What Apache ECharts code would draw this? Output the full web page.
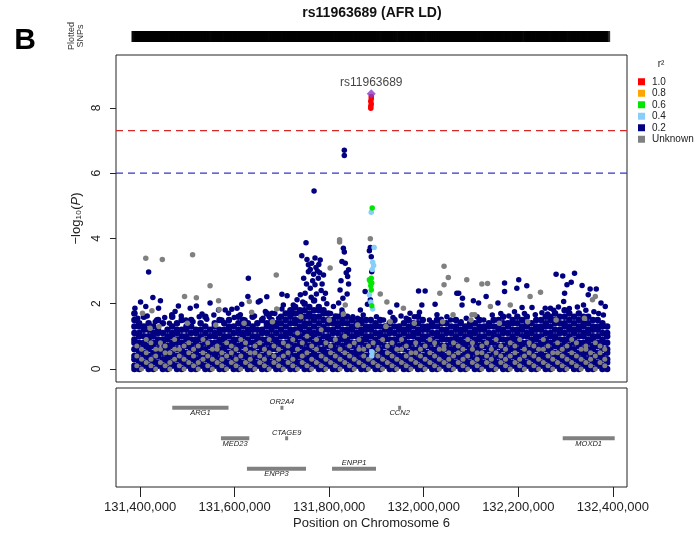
<!DOCTYPE html>
<html><head><meta charset="utf-8">
<script src="https://cdn.jsdelivr.net/npm/echarts@6/dist/echarts.min.js"></script>
<style>html,body{margin:0;padding:0;background:#fff}#c{width:700px;height:536px}</style>
</head><body><div id="c"></div>
<script>
// ---------- data (positions in kb on chromosome 6, values = -log10 P) ----------
const chartTitle = 'rs11963689 (AFR LD)';
const indexSnpName = 'rs11963689';
const xTicks = [131400,131600,131800,132000,132200,132400];
const yTicks = [0,2,4,6,8];
const sigLine = 7.3, suggLine = 6;
const legendNames = ['1.0','0.8','0.6','0.4','0.2','Unknown'];

// dense low-significance cloud, r2 < 0.2 (navy): [position, [values]]
const navyBase = [
[131388,[0,.1,.3,.4,.6,.8,.9,1.1,1.3,1.5,1.7]],[131398,[0,.2,.3,.5,.6,.8,1,1.1,1.3,1.4]],
[131408,[.1,.2,.4,.5,.7,.8,1,1.2,1.3,1.6]],[131418,[0,.1,.3,.4,.6,.7,.9,1,1.2,1.4]],
[131428,[0,.2,.3,.5,.7,.8,1,1.1,1.3]],[131438,[.1,.2,.4,.5,.6,.8,.9,1.1,1.2,1.5]],
[131448,[0,.1,.3,.5,.6,.8,.9,1.1,1.4]],[131458,[0,.2,.3,.4,.6,.7,.9,1,1.2]],
[131468,[.1,.2,.4,.5,.7,.8,1,1.1,1.3,1.6]],[131478,[0,.1,.3,.4,.6,.8,.9,1.1,1.2,1.4]],
[131488,[0,.2,.3,.5,.6,.8,1,1.2,1.5]],[131498,[.1,.2,.4,.5,.7,.9,1,1.2,1.3]],
[131508,[0,.1,.3,.4,.6,.7,.9,1.1,1.3,1.5]],[131518,[0,.2,.3,.5,.6,.8,.9,1.1,1.2]],
[131528,[.1,.2,.4,.6,.7,.9,1,1.2,1.4]],[131538,[0,.1,.3,.4,.6,.8,.9,1.1,1.3,1.6]],
[131548,[0,.2,.3,.5,.7,.8,1,1.2]],[131558,[.1,.2,.4,.5,.6,.8,1,1.1,1.3,1.4]],
[131568,[0,.1,.3,.5,.6,.8,.9,1.1,1.2,1.5]],[131578,[0,.2,.3,.4,.6,.7,.9,1,1.2,1.4]],
[131588,[.1,.2,.4,.5,.7,.8,1,1.2,1.3,1.5]],[131598,[0,.1,.3,.5,.6,.8,.9,1.1,1.3]],
[131608,[0,.2,.3,.4,.6,.7,.9,1.1,1.2,1.4,1.6]],[131618,[.1,.2,.4,.5,.7,.8,1,1.1,1.3,1.5]],
[131628,[0,.1,.3,.4,.6,.8,.9,1.1,1.2,1.4]],[131638,[0,.2,.3,.5,.6,.8,1,1.2,1.3,1.6]],
[131648,[.1,.2,.4,.5,.7,.9,1,1.2,1.4]],[131658,[0,.1,.3,.4,.6,.7,.9,1.1,1.2,1.5]],
[131668,[0,.2,.3,.5,.6,.8,.9,1.1,1.3,1.4,1.7]],[131678,[.1,.2,.4,.6,.7,.9,1,1.2,1.3,1.5]],
[131688,[0,.1,.3,.4,.6,.8,.9,1.1,1.3,1.4]],[131698,[0,.2,.3,.5,.7,.8,1,1.2,1.4,1.6]],
[131708,[.1,.2,.4,.5,.6,.8,1,1.1,1.3,1.5,1.7]],[131718,[0,.1,.3,.5,.6,.8,.9,1.1,1.2,1.4,1.6,1.8]],
[131728,[0,.2,.3,.4,.6,.7,.9,1,1.2,1.4,1.5,1.7,1.9]],[131738,[.1,.2,.4,.5,.7,.8,1,1.2,1.3,1.5,1.7,1.8]],
[131748,[0,.1,.3,.5,.6,.8,.9,1.1,1.3,1.4,1.6,1.8,2]],[131758,[0,.2,.3,.4,.6,.7,.9,1.1,1.2,1.4,1.6,1.7,1.9]],
[131768,[.1,.2,.4,.5,.7,.8,1,1.1,1.3,1.5,1.6,1.8,2.1]],[131778,[0,.1,.3,.4,.6,.8,.9,1.1,1.2,1.4,1.6,1.8,1.9]],
[131788,[0,.2,.3,.5,.6,.8,1,1.2,1.3,1.5,1.7,1.8]],[131798,[.1,.2,.4,.5,.7,.9,1,1.2,1.4,1.5,1.7]],
[131808,[0,.1,.3,.4,.6,.7,.9,1.1,1.2,1.4,1.5]],[131818,[0,.2,.3,.5,.6,.8,.9,1.1,1.3,1.4,1.6]],
[131828,[.1,.2,.4,.6,.7,.9,1,1.2,1.4,1.5,1.7]],[131838,[0,.1,.3,.4,.6,.8,.9,1.1,1.2,1.4,1.6]],
[131848,[0,.2,.3,.5,.7,.8,1,1.2,1.3,1.5]],[131858,[.1,.2,.4,.5,.6,.8,1,1.1,1.3,1.4]],
[131868,[0,.1,.3,.5,.6,.8,.9,1.1,1.2,1.4,1.5]],[131878,[0,.2,.3,.4,.6,.7,.9,1,1.2,1.3,1.5]],
[131888,[.1,.2,.4,.5,.7,.8,1,1.2,1.3,1.5]],[131898,[0,.1,.3,.4,.6,.8,.9,1.1,1.3,1.4]],
[131908,[0,.2,.3,.5,.6,.8,1,1.1,1.3,1.5]],[131918,[.1,.2,.4,.5,.7,.9,1,1.2,1.3]],
[131928,[0,.1,.3,.4,.6,.7,.9,1.1,1.2,1.4]],[131938,[0,.2,.3,.5,.6,.8,.9,1.1,1.3,1.5]],
[131948,[.1,.2,.4,.6,.7,.9,1,1.2,1.3]],[131958,[0,.1,.3,.4,.6,.8,.9,1.1,1.2,1.4]],
[131968,[0,.2,.3,.5,.7,.8,1,1.2,1.3,1.5]],[131978,[.1,.2,.4,.5,.6,.8,1,1.1,1.3,1.4]],
[131988,[0,.1,.3,.5,.6,.8,.9,1.1,1.2,1.4,1.6]],[131998,[0,.2,.3,.4,.6,.7,.9,1,1.2,1.3,1.5]],
[132008,[.1,.2,.4,.5,.7,.8,1,1.2,1.3]],[132018,[0,.1,.3,.4,.6,.8,.9,1.1,1.3,1.4]],
[132028,[0,.2,.3,.5,.6,.8,1,1.1,1.3,1.5]],[132038,[.1,.2,.4,.5,.7,.9,1,1.2,1.4]],
[132048,[0,.1,.3,.4,.6,.7,.9,1.1,1.2,1.4]],[132058,[0,.2,.3,.5,.6,.8,.9,1.1,1.3]],
[132068,[.1,.2,.4,.6,.7,.9,1,1.2,1.3,1.5]],[132078,[0,.1,.3,.4,.6,.8,.9,1.1,1.2,1.4]],
[132088,[0,.2,.3,.5,.7,.8,1,1.2,1.3]],[132098,[.1,.2,.4,.5,.6,.8,1,1.1,1.3,1.4]],
[132108,[0,.1,.3,.5,.6,.8,.9,1.1,1.2,1.4]],[132118,[0,.2,.3,.4,.6,.7,.9,1,1.2,1.3,1.5]],
[132128,[.1,.2,.4,.5,.7,.8,1,1.2,1.3]],[132138,[0,.1,.3,.4,.6,.8,.9,1.1,1.3,1.4]],
[132148,[0,.2,.3,.5,.6,.8,1,1.1,1.3,1.5]],[132158,[.1,.2,.4,.5,.7,.9,1,1.2,1.3,1.5]],
[132168,[0,.1,.3,.4,.6,.7,.9,1.1,1.2,1.4,1.6]],[132178,[0,.2,.3,.5,.6,.8,.9,1.1,1.3,1.4]],
[132188,[.1,.2,.4,.6,.7,.9,1,1.2,1.4,1.5]],[132198,[0,.1,.3,.4,.6,.8,.9,1.1,1.2,1.4,1.6]],
[132208,[0,.2,.3,.5,.7,.8,1,1.2,1.3,1.5]],[132218,[.1,.2,.4,.5,.6,.8,1,1.1,1.3,1.4,1.6]],
[132228,[0,.1,.3,.5,.6,.8,.9,1.1,1.2,1.4]],[132238,[0,.2,.3,.4,.6,.7,.9,1,1.2,1.3,1.5]],
[132248,[.1,.2,.4,.5,.7,.8,1,1.2,1.3,1.5]],[132258,[0,.1,.3,.4,.6,.8,.9,1.1,1.3,1.4,1.6]],
[132268,[0,.2,.3,.5,.6,.8,1,1.1,1.3,1.5,1.6]],[132278,[.1,.2,.4,.5,.7,.9,1,1.2,1.4,1.5,1.7]],
[132288,[0,.1,.3,.4,.6,.7,.9,1.1,1.2,1.4,1.6]],[132298,[0,.2,.3,.5,.6,.8,.9,1.1,1.3,1.4,1.6,1.8]],
[132308,[.1,.2,.4,.6,.7,.9,1,1.2,1.3,1.5,1.7]],[132318,[0,.1,.3,.4,.6,.8,.9,1.1,1.2,1.4,1.6]],
[132328,[0,.2,.3,.5,.7,.8,1,1.2,1.3,1.5,1.7]],[132338,[.1,.2,.4,.5,.6,.8,1,1.1,1.3,1.4,1.6]],
[132348,[0,.1,.3,.5,.6,.8,.9,1.1,1.2,1.4,1.6]],[132358,[0,.2,.3,.4,.6,.7,.9,1,1.2,1.3,1.5]],
[132368,[.1,.2,.4,.5,.7,.8,1,1.2,1.3,1.5]],[132378,[0,.1,.3,.4,.6,.8,.9,1.1,1.3,1.4]],
[132388,[0,.2,.3,.5,.6,.8,1,1.1,1.3]]
];

// unknown-LD SNPs inside the dense cloud (grey): [position, [values]]
const greyBase = [
[131393,[.1,.4,.7]],[131403,[0,.3,.6]],[131413,[.2,.5,.9]],[131423,[.1,.3,.8]],[131433,[0,.4,.6]],
[131443,[.2,.6,.8]],[131453,[.1,.5,.7]],[131463,[0,.2,.5]],[131473,[.3,.6,.9]],[131483,[.1,.4,.6]],
[131493,[0,.3,.7]],[131503,[.2,.5,.8]],[131513,[.1,.4,.6]],[131523,[0,.2,.7]],[131533,[.3,.5,.9]],
[131543,[.1,.4,.8]],[131553,[0,.3,.6]],[131563,[.2,.6,.7]],[131573,[.1,.3,.5]],[131583,[0,.4,.8]],
[131593,[.2,.5,.7]],[131603,[.1,.3,.6]],[131613,[0,.4,.9]],[131623,[.2,.6,.8]],[131633,[.1,.3,.5]],
[131643,[0,.5,.7]],[131653,[.2,.4,.8]],[131663,[.1,.3,.6]],[131673,[0,.5,.9]],[131683,[.2,.4,.7]],
[131693,[.1,.3,.6]],[131703,[0,.4,.8]],[131713,[.2,.5,.7]],[131723,[.1,.3,.9]],[131733,[0,.6,1.1]],
[131743,[.2,.4,.8]],[131753,[.1,.5,1]],[131763,[0,.3,.7]],[131773,[.2,.6,.9]],[131783,[.1,.4,1.2]],
[131793,[0,.3,.8]],[131803,[.2,.5,.7]],[131813,[.1,.4,.9]],[131823,[0,.3,.6]],[131833,[.2,.5,1]],
[131843,[.1,.4,.7]],[131853,[0,.3,.8]],[131863,[.2,.6,.9]],[131873,[.1,.4,.6]],[131883,[0,.3,.7]],
[131893,[.2,.5,.8]],[131903,[.1,.4,.6]],[131913,[0,.3,.9]],[131923,[.2,.5,.7]],[131933,[.1,.4,.8]],
[131943,[0,.3,.6]],[131953,[.2,.6,.9]],[131963,[.1,.4,.7]],[131973,[0,.3,.5]],[131983,[.2,.5,.8]],
[131993,[.1,.4,.6]],[132003,[0,.3,.7]],[132013,[.2,.5,.9]],[132023,[.1,.4,.8]],[132033,[0,.3,.6]],
[132043,[.2,.6,.7]],[132053,[.1,.3,.5]],[132063,[0,.4,.8]],[132073,[.2,.5,.7]],[132083,[.1,.3,.6]],
[132093,[0,.4,.9]],[132103,[.2,.6,.8]],[132113,[.1,.3,.5]],[132123,[0,.5,.7]],[132133,[.2,.4,.8]],
[132143,[.1,.3,.6]],[132153,[0,.5,.9]],[132163,[.2,.4,.7]],[132173,[.1,.3,.6]],[132183,[0,.4,.8]],
[132193,[.2,.5,.7]],[132203,[.1,.3,.9]],[132213,[0,.4,.6]],[132223,[.2,.5,.8]],[132233,[.1,.4,.7]],
[132243,[0,.3,.6]],[132253,[.2,.6,.9]],[132263,[.1,.4,.7]],[132273,[0,.3,.5]],[132283,[.2,.5,.8]],
[132293,[.1,.4,.6]],[132303,[0,.3,.7]],[132313,[.2,.5,.9]],[132323,[.1,.4,.8]],[132333,[0,.3,.6]],
[132343,[.2,.6,.7]],[132353,[.1,.3,.5]],[132363,[0,.4,.8]],[132373,[.2,.5,.7]],[132383,[.1,.3,.6]]
];

// individually read navy SNPs (r2 < 0.2)
const navyPts = [
[131418,2.97],[131401,2.05],[131427,2.19],[131443,2.09],[131481,1.93],[131519,1.93],[131548,2.02],
[131594,1.83],[131615,1.98],[131628,2.22],[131629,2.78],[131650,2.05],[131668,2.21],[131700,2.29],
[131711,2.24],[131703,1.96],[131721,1.81],[131389,1.86],[131388,1.71],[131412,1.91],[131439,1.86],
[131435,1.5],[131467,1.66],[131474,1.76],[131506,1.86],[131531,1.68],[131566,1.81],[131580,1.81],
[131587,1.71],[131605,1.86],[131654,2.09],[131665,1.76],[131679,1.71],[131700,1.84],[131717,1.68],
[131751,3.87],[131742,3.47],[131756,3.19],[131763,3.24],[131770,3.4],[131781,3.34],[131772,3.11],
[131767,2.9],[131777,2.78],[131788,2.88],[131785,2.6],[131770,2.58],[131760,2.47],[131792,2.32],
[131788,2.15],[131749,2.32],[131746,2.78],[131756,2.98],[131739,2.27],[131732,2.12],[131724,1.96],
[131768,5.45],[131760,3.05],[131775,3.0],[131780,2.95],[131765,2.7],[131752,2.6],[131783,2.4],
[131773,2.3],[131762,2.2],[131795,2.0],[131744,2.05],[131778,3.2],[131753,3.35],
[131830,3.7],[131832,3.58],[131827,3.29],[131834,3.24],[131841,3.04],[131839,2.83],[131841,2.6],
[131823,2.42],[131829,2.17],[131820,2.02],[131809,1.91],[131827,1.81],[131832,6.7],[131832,6.54],
[131836,2.95],[131825,2.7],[131838,2.3],
[131887,3.72],[131885,3.62],[131889,3.44],[131890,2.98],[131887,2.12],[131881,1.98],[131876,2.37],[131866,1.81],
[131943,1.96],[131929,1.74],[131989,2.39],[132003,2.39],[131996,1.96],[131991,1.74],[132024,1.98],
[132070,2.32],[132028,1.66],[132049,1.6],[131971,1.71],
[132074,2.32],[132082,2.17],[132081,1.96],[132105,2.09],[132116,2.02],[132132,2.22],[132157,2.02],
[132171,2.63],[132171,2.37],[132201,2.73],[132197,2.47],[132218,2.55],[132280,2.9],[132294,2.85],
[132319,2.93],[132312,2.66],[132303,2.58],[132335,2.56],[132352,2.45],[132365,2.45],[132298,2.32],
[132296,2.07],[132348,2.27],[132375,2.02],[132384,1.91],[132338,1.96],[132208,1.88],[132229,1.88],
[132257,1.86],[132268,1.86],[132079,1.45],
[131395,1.55],[131415,1.62],[131432,1.45],[131452,1.58],[131462,1.4],[131487,1.62],[131497,1.5],
[131512,1.45],[131525,1.6],[131541,1.52],[131556,1.65],[131573,1.5],[131599,1.58],[131612,1.66],
[131622,1.5],[131642,1.62],[131660,1.55],[131673,1.6],[131685,1.7],[131693,1.55],[131803,1.7],
[131813,1.62],[131850,1.6],[131860,1.55],[131872,1.65],[131900,1.6],[131915,1.5],[131935,1.58],
[131952,1.62],[131963,1.55],[131980,1.6],[132012,1.5],[132037,1.52],[132057,1.5],[132090,1.55],
[132113,1.6],[132127,1.5],[132145,1.65],[132163,1.7],[132180,1.62],[132192,1.75],[132213,1.7],
[132236,1.66],[132250,1.72],[132262,1.68],[132275,1.8],[132285,1.9],[132308,1.85],[132325,1.9],
[132343,1.8],[132360,1.75],[132370,1.7],[132380,1.65]
];

// individually read grey SNPs (no LD information)
const greyPts = [
[131412,3.39],[131447,3.35],[131511,3.5],[131548,2.55],[131688,2.88],[131494,2.22],[131519,2.18],
[131566,2.09],[131567,1.82],[131631,2.07],[131636,1.74],[131689,1.84],[131405,1.71],[131425,1.78],
[131421,1.25],[131822,3.96],[131822,3.89],[131834,1.96],[131830,1.68],[131802,3.09],
[131887,3.99],[131908,2.3],[131922,2.05],[131957,1.86],[132043,3.15],[132052,2.8],[132043,2.58],
[132034,2.32],[132062,1.66],[131929,1.45],[132091,2.73],[132123,2.6],[132135,2.62],[132141,1.91],
[132225,2.22],[132247,2.35],[132363,2.22],[132357,2.12],[132183,1.96],[132102,1.66],[132108,1.66],
[131440,1.3],[131500,1.4],[131560,1.35],[131620,1.4],[131680,1.45],[131740,1.6],[131800,1.5],
[131860,1.35],[131920,1.3],[131980,1.4],[132040,1.45],[132100,1.5],[132160,1.4],[132220,1.45],
[132280,1.5],[132340,1.55]
];

const ltbluePts = [[131895,3.72],[131892,3.27],[131894,3.17],[131885,2.27],[131892,1.84],[131890,0.53],[131890,0.4],[131889,4.8],[131891,3.05],[131888,2.05]];
const greenPts  = [[131889,2.78],[131887,2.68],[131890,2.63],[131885,2.73],[131889,2.42],[131890,1.94],[131891,4.93],[131888,2.55]];
const orangePts = [];
const redPts    = [[131889,8.35],[131889,8.28],[131888,8.2],[131889,8.12],[131888,8.05],[131888,7.99]];
const indexPt   = [131889,8.43];

// genes: name, start, end, track row, label side
const geneNames = ['ARG1','OR2A4','CCN2','MED23','CTAGE9','MOXD1','ENPP3','ENPP1'];
const geneStart = [131468,131700,131949,131571,131710,132294,131626,131806];
const geneEnd   = [131587,131700,131949,131631,131710,132404,131751,131899];
const geneRow   = [1,1,1,2,2,2,3,3];
const geneLabelAbove = [false,true,false,false,true,false,false,true];

// ---------- chart ----------
const xMin = 131349, xMax = 132430;
const FONT = '"Liberation Sans", Arial, sans-serif';
const flat = cols => cols.flatMap(([x, ys]) => ys.map(y => [x, y]));
const rugX = Array.from(new Set([...navyBase.map(c=>c[0]), ...greyBase.map(c=>c[0]), ...navyPts.map(p=>p[0]), ...greyPts.map(p=>p[0])])).sort((a,b)=>a-b);

const chart = echarts.init(document.getElementById('c'), null, {renderer:'canvas'});
const PS = 5.5;
function sc(name, data, color, size) {
  return {type:'scatter', name, data, xAxisIndex:0, yAxisIndex:0, symbol:'circle', symbolSize:size||PS,
    itemStyle:{color, opacity:1}, silent:true, animation:false};
}
function hline(value, color) {
  return {type:'line', name:'thr', data:[[xMin,value],[xMax,value]], xAxisIndex:0, yAxisIndex:0,
    symbol:'none', silent:true, animation:false, lineStyle:{color, width:1.2, type:[7,5]}, z:1};
}

const option = {
  animation:false,
  textStyle:{fontFamily:FONT},
  grid:[
    {left:116, right:73, top:55, height:327, show:true, borderColor:'#222', borderWidth:1, backgroundColor:'transparent'},
    {left:116, right:73, top:388, height:99, show:true, borderColor:'#222', borderWidth:1, backgroundColor:'transparent'},
    {left:116, right:73, top:31, height:11}
  ],
  xAxis:[
    {gridIndex:0, type:'value', min:xMin, max:xMax, show:false},
    {gridIndex:1, type:'value', min:xMin, max:xMax,
      axisLine:{show:false}, splitLine:{show:false},
      axisTick:{show:true, inside:false, length:10, customValues:xTicks, lineStyle:{color:'#222', width:1}},
      axisLabel:{customValues:xTicks, fontSize:13, color:'#222', margin:14, fontFamily:FONT,
        formatter:v => Math.round(v*1000).toLocaleString('en-US')},
      name:'Position on Chromosome 6', nameLocation:'middle', nameGap:30,
      nameTextStyle:{fontSize:13, color:'#222', fontFamily:FONT}},
    {gridIndex:2, type:'value', min:xMin, max:xMax, show:false}
  ],
  yAxis:[
    {gridIndex:0, type:'value', min:-0.4, max:9.62,
      axisLine:{show:false}, splitLine:{show:false},
      axisTick:{show:true, inside:false, length:6, customValues:yTicks, lineStyle:{color:'#222'}},
      axisLabel:{customValues:yTicks, rotate:90, fontSize:12, color:'#222', margin:13, fontFamily:FONT},
      name:'−log₁₀({it|P})', nameLocation:'middle', nameRotate:90, nameGap:30,
      nameTextStyle:{fontSize:13, color:'#222', fontFamily:FONT, rich:{it:{fontStyle:'italic', fontSize:13, fontFamily:FONT}}}},
    {gridIndex:1, type:'value', min:0.35, max:3.6, inverse:true, show:false},
    {gridIndex:2, type:'value', min:0, max:1, show:false}
  ],
  legend:{orient:'vertical', left:638, top:76, padding:0, itemWidth:7, itemHeight:7, itemGap:0, icon:'rect',
    selectedMode:false, data:legendNames,
    textStyle:{fontSize:10, color:'#222', fontFamily:FONT, lineHeight:11.5, padding:[0,0,0,2]}},
  graphic:[
    {type:'text', x:372, y:13, style:{text:chartTitle, font:'bold 14px '+FONT, fill:'#111', align:'center', verticalAlign:'middle'}},
    {type:'text', x:25, y:41, style:{text:'B', font:'bold 30px '+FONT, fill:'#000', align:'center', verticalAlign:'middle'}},
    {type:'text', x:76, y:36, rotation:Math.PI/2, style:{text:'Plotted\nSNPs', font:'9px '+FONT, fill:'#333', align:'center', verticalAlign:'middle', lineHeight:9}},
    {type:'text', x:661, y:64, style:{text:'r²', font:'10px '+FONT, fill:'#222', align:'center', verticalAlign:'middle'}}
  ],
  series:[
    hline(sigLine, '#d42a2a'),
    hline(suggLine, '#3434cc'),
    sc('0.2', flat(navyBase), '#000080', 6.5),
    sc('Unknown', flat(greyBase), '#808080', 5),
    sc('0.2', navyPts, '#000080'),
    sc('Unknown', greyPts, '#808080'),
    sc('0.4', ltbluePts, '#87cefa'),
    sc('0.6', greenPts, '#00e600'),
    sc('0.8', orangePts, '#ffa500'),
    sc('1.0', redPts, '#ff0000'),
    {type:'scatter', name:'index', data:[indexPt], xAxisIndex:0, yAxisIndex:0, symbol:'diamond', symbolSize:9,
      itemStyle:{color:'#8a3cc8'}, silent:true, animation:false,
      label:{show:true, position:'top', distance:1, formatter:indexSnpName, fontSize:12, color:'#111', fontFamily:FONT}},
    {type:'scatter', name:'rug', data:rugX.map(x=>[x,0.5]), xAxisIndex:2, yAxisIndex:2, symbol:'rect', symbolSize:[6,11],
      itemStyle:{color:'#000'}, silent:true, animation:false},
    {type:'custom', name:'genes', xAxisIndex:1, yAxisIndex:1, silent:true, animation:false,
      data:geneNames.map((n,i)=>[geneStart[i], geneEnd[i], geneRow[i]]),
      renderItem:function(params, api){
        const i = params.dataIndex;
        const p1 = api.coord([api.value(0), api.value(2)]);
        const p2 = api.coord([api.value(1), api.value(2)]);
        const cx = (p1[0]+p2[0])/2;
        const w = Math.max(p2[0]-p1[0], 3);
        const ty = geneLabelAbove[i] ? p1[1]-5.5 : p1[1]+5.5;
        return {type:'group', children:[
          {type:'rect', shape:{x:cx-w/2, y:p1[1]-2, width:w, height:4}, style:{fill:'#808080'}},
          {type:'text', x:cx, y:ty, style:{text:geneNames[i], font:'italic 7.5px '+FONT, fill:'#222', align:'center', verticalAlign:'middle'}}
        ]};
      }}
  ]
};
chart.setOption(option);
</script>
</body></html>
